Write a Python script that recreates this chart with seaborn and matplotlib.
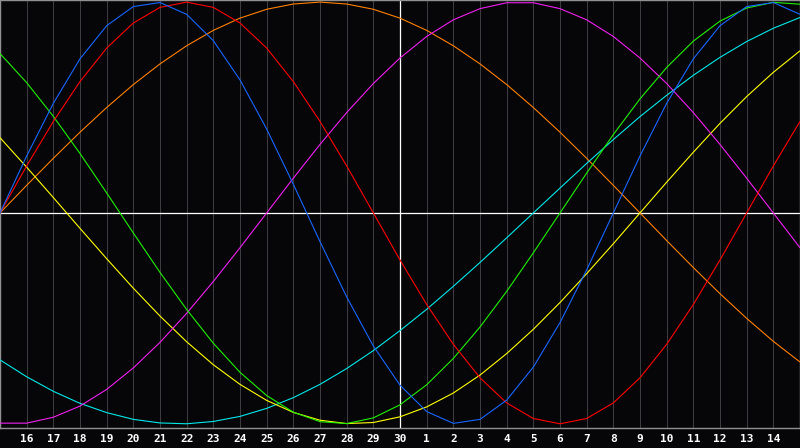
import matplotlib
matplotlib.use("Agg")
import matplotlib.pyplot as plt
import seaborn as sns
import pandas as pd

# Day labels (day index 0..30 along the x axis)
day_labels = ["15", "16", "17", "18", "19", "20", "21", "22", "23", "24", "25", "26",
              "27", "28", "29", "30", "1", "2", "3", "4", "5", "6", "7", "8", "9",
              "10", "11", "12", "13", "14", "15"]

# Cycle values (percent) read per day
blue = [0, 27.0, 52.0, 73.1, 88.8, 97.9, 99.8, 94.2, 81.7, 63.1, 39.8, 13.6, -13.6,
        -39.8, -63.1, -81.7, -94.2, -99.8, -97.9, -88.8, -73.1, -52.0, -27.0, 0,
        27.0, 52.0, 73.1, 88.8, 97.9, 99.8, 94.2]
red = [0, 22.3, 43.4, 62.3, 78.2, 90.1, 97.5, 100, 97.5, 90.1, 78.2, 62.3, 43.4, 22.3,
       0, -22.3, -43.4, -62.3, -78.2, -90.1, -97.5, -100, -97.5, -90.1, -78.2, -62.3,
       -43.4, -22.3, 0, 22.3, 43.4]
green = [75.6, 61.8, 45.8, 28.2, 9.5, -9.5, -28.2, -45.8, -61.8, -75.6, -86.6, -94.5,
         -99.0, -99.9, -97.2, -91.0, -81.5, -69.0, -54.1, -37.2, -18.9, 0, 18.9, 37.2,
         54.1, 69.0, 81.5, 91.0, 97.2, 99.9, 99.0]
magenta = [-99.7, -99.7, -96.9, -91.6, -83.7, -73.5, -61.4, -47.6, -32.5, -16.5, 0,
           16.5, 32.5, 47.6, 61.4, 73.5, 83.7, 91.6, 96.9, 99.7, 99.7, 96.9, 91.6, 83.7,
           73.5, 61.4, 47.6, 32.5, 16.5, 0, -16.5]
yellow = [35.7, 21.7, 7.3, -7.3, -21.7, -35.7, -48.9, -61.1, -72.0, -81.3, -88.9, -94.6,
          -98.3, -99.9, -99.4, -96.7, -92.0, -85.4, -76.9, -66.7, -55.2, -42.5, -28.8,
          -14.6, 0, 14.6, 28.8, 42.5, 55.2, 66.7, 76.9]
orange = [0, 13.1, 25.9, 38.3, 50.0, 60.9, 70.7, 79.3, 86.6, 92.4, 96.6, 99.1, 100, 99.1,
          96.6, 92.4, 86.6, 79.3, 70.7, 60.9, 50.0, 38.3, 25.9, 13.1, 0, -13.1, -25.9,
          -38.3, -50.0, -60.9, -70.7]
cyan = [-69.7, -77.7, -84.6, -90.3, -94.7, -97.9, -99.6, -100.0, -98.9, -96.5, -92.7,
        -87.6, -81.3, -73.8, -65.3, -55.8, -45.7, -34.8, -23.5, -11.8, 0, 11.8, 23.5,
        34.8, 45.7, 55.8, 65.3, 73.8, 81.3, 87.6, 92.7]

series = {"orange": orange, "cyan": cyan, "yellow": yellow, "magenta": magenta,
          "green": green, "red": red, "blue": blue}
palette = {"orange": "#ff8000", "cyan": "#00e8e8", "yellow": "#ffff00",
           "magenta": "#f020f0", "green": "#20f000", "red": "#ff0000", "blue": "#1866ff"}

rows = []
for name, vals in series.items():
    for d, v in enumerate(vals):
        rows.append({"day": d, "value": v, "cycle": name})
df = pd.DataFrame(rows)

sns.set_style("dark")
bg = "#060609"
fig = plt.figure(figsize=(8, 4.48), dpi=100, facecolor=bg)
ax = fig.add_axes([0, 1 - 428 / 448, 1, 428 / 448])
ax.set_facecolor(bg)

# day gridlines
for d in range(1, 30):
    ax.axvline(d, color="#3c3c40", lw=0.75, zorder=1)
ax.axvline(15, color="white", lw=0.9, zorder=2)
ax.axhline(0, color="white", lw=0.9, zorder=2)

sns.lineplot(data=df, x="day", y="value", hue="cycle", palette=palette,
             hue_order=list(series.keys()), lw=0.8, legend=False, ax=ax, zorder=3)

ax.set_xlim(0, 30)
ax.set_ylim(-102, 101)
ax.set_xticks(range(1, 30))
ax.set_xticklabels(day_labels[1:30], color="white", fontsize=8, fontweight="bold",
                   family="DejaVu Sans Mono")
ax.tick_params(axis="x", length=0, pad=4.5)
ax.set_yticks([])
ax.set_xlabel("")
ax.set_ylabel("")
ax.grid(False)
for s in ["left", "top", "bottom", "right"]:
    ax.spines[s].set_color("#909090")
    ax.spines[s].set_linewidth(1.0)

fig.savefig("out.png", dpi=100, facecolor=bg)
